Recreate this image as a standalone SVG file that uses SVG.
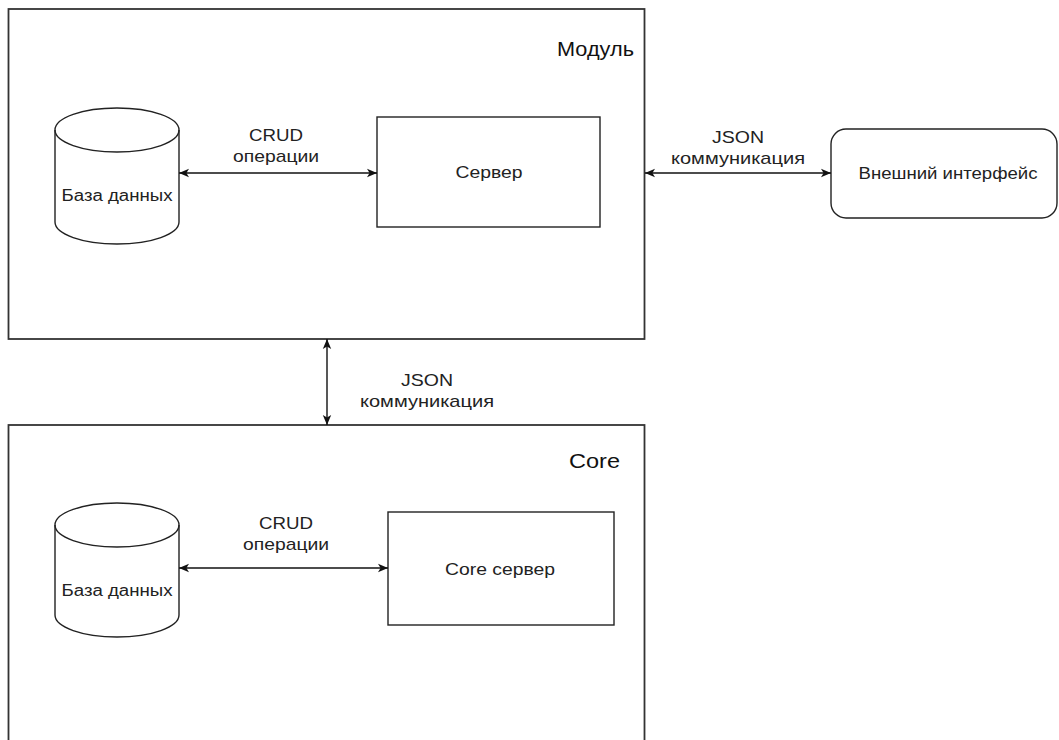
<svg xmlns="http://www.w3.org/2000/svg" width="1059" height="740" viewBox="0 0 1059 740">
<style>
.box{fill:#fff;stroke:#222;stroke-width:1.4}
.cont{fill:#fff;stroke:#333;stroke-width:1.8}
.t{font-family:"Liberation Sans",Arial,Helvetica,sans-serif;font-size:16px;fill:#222;text-anchor:middle}
.e{font-family:"Liberation Sans",Arial,Helvetica,sans-serif;font-size:17px;fill:#222;text-anchor:middle}
.title{font-family:"Liberation Sans",Arial,Helvetica,sans-serif;font-size:21px;fill:#111;text-anchor:end}
.c{fill:none;stroke:#111;stroke-width:1.4}
</style>
<defs>
<marker id="ae" viewBox="0 0 10 10" refX="10" refY="5" markerWidth="10" markerHeight="10" markerUnits="userSpaceOnUse" orient="auto-start-reverse">
<path d="M0,0.8 L10,5 L0,9.2 L2.6,5 Z" fill="#111"/>
</marker>
</defs>
<g id="module">
<rect class="cont" x="8.5" y="9" width="636" height="330"/>
<text class="title" x="634" y="56" textLength="77" lengthAdjust="spacingAndGlyphs">Модуль</text>
</g>
<g id="core">
<rect class="cont" x="8.5" y="425" width="636" height="340"/>
<text class="title" x="620" y="468" textLength="51" lengthAdjust="spacingAndGlyphs">Core</text>
</g>
<g id="db1">
<path class="box" d="M55,130 A62,22 0 0 1 179,130 L179,222 A62,22 0 0 1 55,222 Z"/>
<path class="box" style="fill:none" d="M55,130 A62,22 0 0 0 179,130"/>
<text class="t" x="117" y="201" textLength="111" lengthAdjust="spacingAndGlyphs">База данных</text>
</g>
<g id="server">
<rect class="box" x="377" y="117" width="223" height="110"/>
<text class="t" x="489" y="178" textLength="67" lengthAdjust="spacingAndGlyphs">Сервер</text>
</g>
<g id="ext">
<rect class="box" x="831" y="129" width="226" height="89" rx="15" ry="15"/>
<text class="t" x="948" y="179" textLength="179" lengthAdjust="spacingAndGlyphs">Внешний интерфейс</text>
</g>
<g id="db2">
<path class="box" d="M55,525 A62,22 0 0 1 179,525 L179,615 A62,22 0 0 1 55,615 Z"/>
<path class="box" style="fill:none" d="M55,525 A62,22 0 0 0 179,525"/>
<text class="t" x="117" y="596" textLength="111" lengthAdjust="spacingAndGlyphs">База данных</text>
</g>
<g id="coreserver">
<rect class="box" x="388" y="512" width="226" height="113"/>
<text class="t" x="500" y="575" textLength="110" lengthAdjust="spacingAndGlyphs">Core сервер</text>
</g>
<g id="connectors">
<path class="c" d="M179,173 L377,173" marker-start="url(#ae)" marker-end="url(#ae)"/>
<text class="e" x="276" y="141" textLength="54" lengthAdjust="spacingAndGlyphs">CRUD</text>
<text class="e" x="276" y="162" textLength="86" lengthAdjust="spacingAndGlyphs">операции</text>
<path class="c" d="M645,173 L831,173" marker-start="url(#ae)" marker-end="url(#ae)"/>
<text class="e" x="738" y="143" textLength="52" lengthAdjust="spacingAndGlyphs">JSON</text>
<text class="e" x="738" y="164" textLength="134" lengthAdjust="spacingAndGlyphs">коммуникация</text>
<path class="c" d="M327,339 L327,425" marker-start="url(#ae)" marker-end="url(#ae)"/>
<text class="e" x="427" y="386" textLength="52" lengthAdjust="spacingAndGlyphs">JSON</text>
<text class="e" x="427" y="407" textLength="134" lengthAdjust="spacingAndGlyphs">коммуникация</text>
<path class="c" d="M179,568 L388,568" marker-start="url(#ae)" marker-end="url(#ae)"/>
<text class="e" x="286" y="529" textLength="54" lengthAdjust="spacingAndGlyphs">CRUD</text>
<text class="e" x="286" y="550" textLength="86" lengthAdjust="spacingAndGlyphs">операции</text>
</g>
</svg>
